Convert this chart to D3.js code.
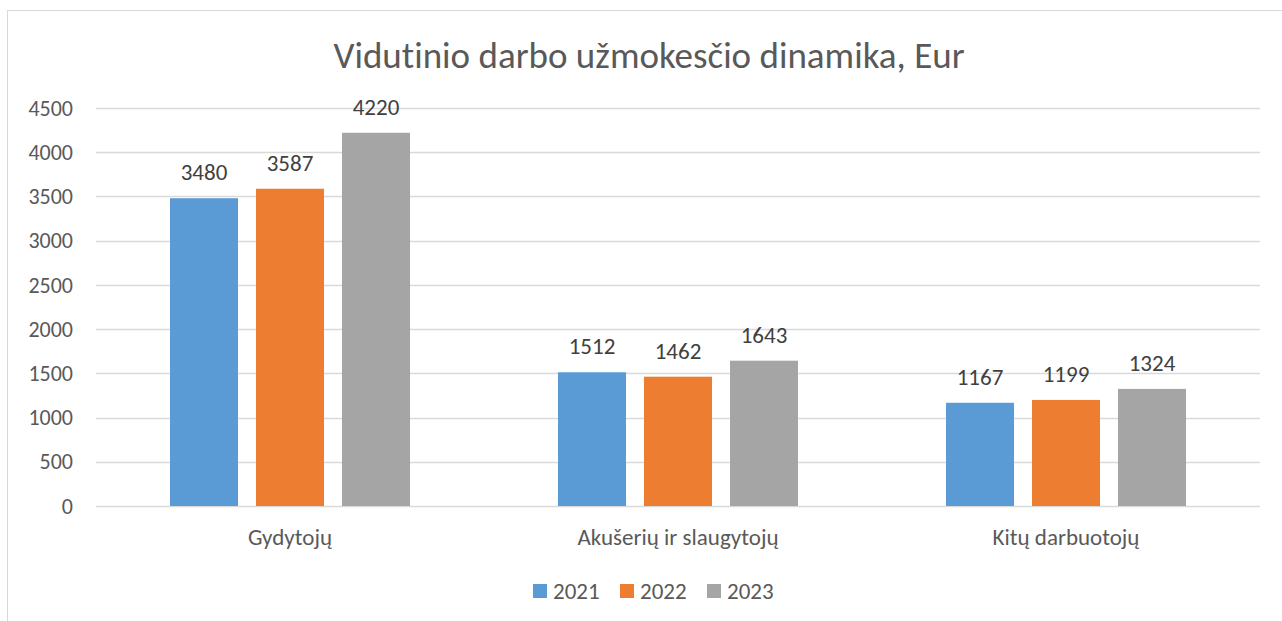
<!DOCTYPE html>
<html>
<head>
<meta charset="utf-8">
<script src="https://cdn.jsdelivr.net/npm/d3@7"></script>
<style>
  body { margin: 0; background: #fff; }
  svg text {
    font-family: Carlito, "Liberation Sans", "Noto Sans", sans-serif;
    fill: #595959;
    font-variant-ligatures: none;
    font-feature-settings: "liga" 0, "dlig" 0;
  }
</style>
</head>
<body>
<div id="chart"></div>
<script>
const categories = ['Gydytojų', 'Akušerių ir slaugytojų', 'Kitų darbuotojų'];
const seriesNames = ['2021', '2022', '2023'];
const values2021 = [3480, 1512, 1167];
const values2022 = [3587, 1462, 1199];
const values2023 = [4220, 1643, 1324];
const yTicks = [0, 500, 1000, 1500, 2000, 2500, 3000, 3500, 4000, 4500];
const colors = ['#5b9bd5', '#ed7d31', '#a5a5a5'];

const width = 1282, height = 621;
const seriesValues = [values2021, values2022, values2023];

const svg = d3.select('#chart').append('svg')
    .attr('width', width)
    .attr('height', height);

// chart area border
svg.append('rect')
    .attr('x', 7.5).attr('y', 10.5)
    .attr('width', 1290).attr('height', 640)
    .attr('fill', 'none')
    .attr('stroke', '#d9d9d9');

const x0 = d3.scaleBand().domain(categories).range([96, 1260]);
const x1 = d3.scaleBand().domain(seriesNames)
    .range([74, x0.bandwidth() - 74])
    .paddingInner(18 / 86);
const y = d3.scaleLinear().domain([0, 4500]).range([506, 108]);

// gridlines
svg.append('g')
    .selectAll('line')
    .data(yTicks)
    .join('line')
    .attr('x1', 96).attr('x2', 1260)
    .attr('y1', d => Math.round(y(d)) + 0.5)
    .attr('y2', d => Math.round(y(d)) + 0.5)
    .attr('stroke', '#d9d9d9')
    .attr('stroke-width', 1.3);

// y labels
svg.append('g')
    .selectAll('text')
    .data(yTicks)
    .join('text')
    .attr('x', 73)
    .attr('y', d => y(d))
    .attr('dy', '0.35em')
    .attr('text-anchor', 'end')
    .attr('font-size', 22)
    .text(d => d);

// bars
const groups = svg.append('g')
    .selectAll('g')
    .data(categories)
    .join('g')
    .attr('transform', d => `translate(${x0(d)},0)`);

groups.selectAll('rect')
    .data((d, i) => seriesNames.map((s, j) => ({ s, j, v: seriesValues[j][i] })))
    .join('rect')
    .attr('x', d => x1(d.s))
    .attr('width', x1.bandwidth())
    .attr('y', d => y(d.v))
    .attr('height', d => y(0) - y(d.v))
    .attr('fill', d => colors[d.j]);

groups.selectAll('text')
    .data((d, i) => seriesNames.map((s, j) => ({ s, j, v: seriesValues[j][i] })))
    .join('text')
    .attr('x', d => x1(d.s) + x1.bandwidth() / 2)
    .attr('y', d => y(d.v) - 18)
    .attr('text-anchor', 'middle')
    .attr('font-size', 23)
    .style('fill', '#404040')
    .text(d => d.v);

// x axis labels
svg.append('g')
    .selectAll('text')
    .data(categories)
    .join('text')
    .attr('x', d => x0(d) + x0.bandwidth() / 2)
    .attr('y', 545)
    .attr('text-anchor', 'middle')
    .attr('font-size', 23)
    .text(d => d);

// title
svg.append('text')
    .attr('x', 649)
    .attr('y', 68)
    .attr('text-anchor', 'middle')
    .attr('font-size', 37)
    .text('Vidutinio darbo užmokesčio dinamika, Eur');

// legend
const legend = svg.append('g')
    .selectAll('g')
    .data(seriesNames)
    .join('g')
    .attr('transform', (d, i) => `translate(${533 + i * 87},591)`);

legend.append('rect')
    .attr('x', 0).attr('y', -7)
    .attr('width', 14).attr('height', 14)
    .attr('fill', (d, i) => colors[i]);

legend.append('text')
    .attr('x', 20)
    .attr('y', 0)
    .attr('dy', '0.35em')
    .attr('font-size', 23)
    .text(d => d);
</script>
</body>
</html>
